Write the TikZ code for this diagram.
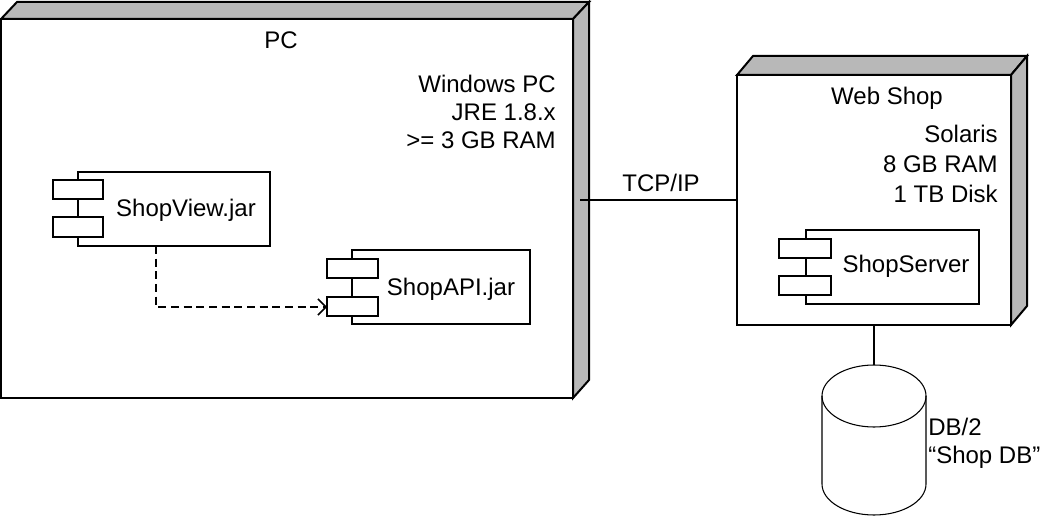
\documentclass[tikz,border=0pt]{standalone}
\usepackage{fontspec}
\setmainfont{Liberation Sans}
\usetikzlibrary{arrows.meta}

\definecolor{sidegray}{RGB}{184,184,184}

\tikzset{
  nodebox/.style={line width=1.5pt, line join=miter},
  compbox/.style={line width=1.3pt, fill=white},
  lbl/.style={inner sep=0pt, font=\fontsize{18}{21}\selectfont},
  link/.style={line width=0.8pt},
  depend/.style={line width=1.1pt, dash pattern=on 6pt off 3.5pt, -{Straight Barb[length=6pt,width=12pt]}},
}

\begin{document}
\begin{tikzpicture}[x=0.75pt,y=0.75pt,yscale=-1,xscale=1]
        \useasboundingbox (0,0) rectangle (1042,516);

        %Node: PC
        \draw [nodebox, fill=sidegray] (1,19) -- (17,2) -- (589,2) -- (573,19) -- cycle ;
        \draw [nodebox, fill=sidegray] (573,19) -- (589,2) -- (589,380) -- (573,398) -- cycle ;
        \draw [nodebox, fill=white] (1,19) rectangle (573,398) ;
        \coordinate (pcport) at (580,200) ;
        % Text Node
        \node [lbl, anchor=base] (pc) at (281,49) {PC};
        % Text Node
        \node [lbl, anchor=north east, align=right] (pcspec) at (556,74.5) {Windows PC\\JRE 1.8.x\\>= 3 GB RAM};

        %Component: ShopView.jar
        \draw [compbox] (78,172) rectangle (270,246) ;
        \draw [compbox] (53,180) rectangle (103,199) ;
        \draw [compbox] (53,217) rectangle (103,237) ;
        \coordinate (viewout) at (156,246) ;
        \node [lbl, anchor=base] (shopview) at (186,217) {ShopView.jar};

        %Component: ShopAPI.jar
        \draw [compbox] (352,250) rectangle (530,324) ;
        \draw [compbox] (327,259) rectangle (378,278) ;
        \draw [compbox] (327,297) rectangle (378,316) ;
        \coordinate (apiport) at (327,307) ;
        \node [lbl, anchor=base] (shopapi) at (451,296) {ShopAPI.jar};

        %Dependency
        \draw [depend] (viewout) |- (apiport) ;

        %Node: Web Shop
        \draw [nodebox, fill=sidegray] (737,75) -- (753,56) -- (1027,56) -- (1011,75) -- cycle ;
        \draw [nodebox, fill=sidegray] (1011,75) -- (1027,56) -- (1027,306) -- (1011,325) -- cycle ;
        \draw [nodebox, fill=white] (737,75) rectangle (1011,325) ;
        \coordinate (shopport) at (737,200) ;
        \coordinate (shopbottom) at (874,325) ;
        % Text Node
        \node [lbl, anchor=base] (webshop) at (887,105) {Web Shop};
        % Text Node
        \node [lbl, anchor=north east, align=right, font=\fontsize{18}{22.5}\selectfont] (shopspec) at (998,124.5) {Solaris\\8 GB RAM\\1 TB Disk};

        %Component: ShopServer
        \draw [compbox] (806,230) rectangle (979,304) ;
        \draw [compbox] (779,239) rectangle (831,258) ;
        \draw [compbox] (779,276) rectangle (831,295) ;
        \node [lbl, anchor=base] (shopserver) at (906,273) {ShopServer};

        %Communication path
        \draw [link] (pcport) -- (shopport) ;
        \node [lbl, anchor=base] (tcpip) at (661,192) {TCP/IP};

        %Database
        \coordinate (dbtop) at (874,365) ;
        \draw [link] (shopbottom) -- (dbtop) ;
        \draw [link] (874,396) ellipse [x radius=52, y radius=31] ;
        \draw [link] (822,396) -- (822,484) arc [start angle=180, end angle=0, x radius=52, y radius=31] -- (926,396) ;
        % Text Node
        \node [lbl, anchor=north west, align=left, font=\fontsize{18}{21}\selectfont] (db) at (928,417.5) {DB/2\\“Shop DB”};

    \end{tikzpicture}
\end{document}
